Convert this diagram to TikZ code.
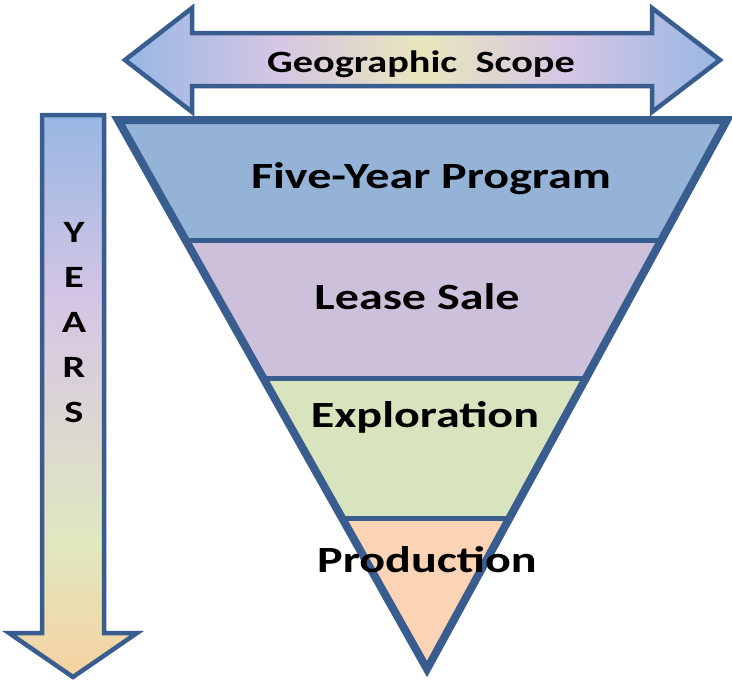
\documentclass[tikz,border=0pt]{standalone}
\usepackage{fontspec}
\newfontfamily\stagefont[FakeStretch=1.3]{Carlito}
\usetikzlibrary{calc}

\definecolor{edgeblue}{RGB}{56,93,142}
\definecolor{progblue}{RGB}{149,179,215}
\definecolor{leaselilac}{RGB}{204,192,218}
\definecolor{explgreen}{RGB}{215,228,189}
\definecolor{prodpeach}{RGB}{250,212,180}
\definecolor{arrblue}{RGB}{152,183,228}
\definecolor{arrlilac}{RGB}{214,198,228}
\definecolor{arrgreen}{RGB}{224,232,192}
\definecolor{arryellow}{RGB}{232,230,188}
\definecolor{arrpeach}{RGB}{246,210,160}

\pgfdeclarehorizontalshading{scopeshade}{100bp}{color(0bp)=(arrblue); color(25bp)=(arrblue); color(38bp)=(arrlilac); color(50bp)=(arryellow); color(62bp)=(arrlilac); color(75bp)=(arrblue); color(100bp)=(arrblue)}
\pgfdeclareverticalshading{yearshade}{100bp}{color(0bp)=(arrpeach); color(25bp)=(arrpeach); color(37bp)=(arrgreen); color(58bp)=(arrlilac); color(75bp)=(arrblue); color(100bp)=(arrblue)}

\begin{document}
\begin{tikzpicture}[x=1pt,y=-1pt,
    stagetext/.style={font=\stagefont\bfseries\fontsize{37}{42}\selectfont, anchor=base, inner sep=0pt},
    arrowtext/.style={font=\stagefont\bfseries\fontsize{31}{36}\selectfont, anchor=base, inner sep=0pt},
    arrowshape/.style={draw=edgeblue, line width=4.5pt}]
    \useasboundingbox (0,0) rectangle (732,680);
    \fill[white] (0,0) rectangle (732,680);

    % Draw the years arrow
    \path[arrowshape, shading=yearshade]
        (42,115) -- (104,115) -- (104,633) -- (137,633) -- (73,677) -- (9,633) -- (42,633) -- cycle;
    \foreach \ltr [count=\i] in {Y,E,A,R,S}
        \node[arrowtext] (yr\i) at (74,242+45*\i-45) {\ltr};

    % Draw the geographic scope arrow
    \path[arrowshape, shading=scopeshade]
        (125,60) -- (192,8) -- (192,33) -- (652,33) -- (652,8) -- (720,60)
        -- (652,112) -- (652,86) -- (192,86) -- (192,112) -- cycle;
    \node[arrowtext] (scope) at (421,72) {Geographic~~Scope};

    % Funnel corners
    \coordinate (tl) at (118,120);
    \coordinate (tr) at (727,120);
    \coordinate (ap) at (427,669);

    % Fill the stages
    \foreach \a/\b/\c in {0/0.219/progblue, 0.219/0.470/leaselilac, 0.470/0.725/explgreen, 0.725/1/prodpeach}
        \fill[\c] ($(tl)!\a!(ap)$) -- ($(tr)!\a!(ap)$) -- ($(tr)!\b!(ap)$) -- ($(tl)!\b!(ap)$) -- cycle;

    % Stage borders and outline
    \foreach \a in {0.219,0.470,0.725}
        \draw[edgeblue, line width=5pt] ($(tl)!\a!(ap)$) -- ($(tr)!\a!(ap)$);
    \draw[edgeblue, line width=8pt] (tl) -- (tr) -- (ap) -- cycle;

    % Stage labels
    \node[stagetext] (prog) at (431,188) {Five-Year Program};
    \node[stagetext] (lease) at (417,309) {Lease Sale};
    \node[stagetext] (expl) at (425,427) {Exploration};
    \node[stagetext] (prod) at (427,572) {Production};
\end{tikzpicture}
\end{document}
